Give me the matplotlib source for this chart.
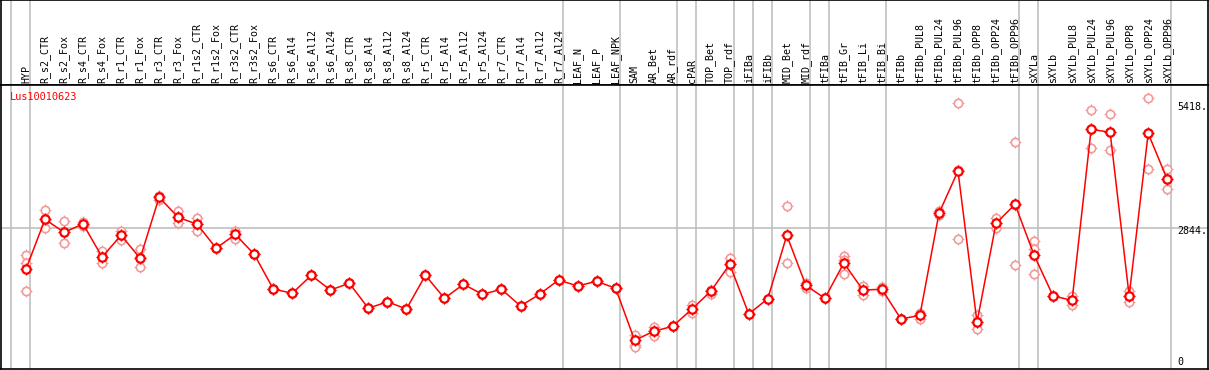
import matplotlib

matplotlib.use('Agg')
import numpy as np
import matplotlib.pyplot as plt

matplotlib.rcParams.update({'font.family': 'DejaVu Sans Mono', 'font.size': 7.2})

gene = 'Lus10010623'

samples = ['HYP',
           'R_s2_CTR', 'R_s2_Fox', 'R_s4_CTR', 'R_s4_Fox', 'R_r1_CTR', 'R_r1_Fox',
           'R_r3_CTR', 'R_r3_Fox', 'R_r1s2_CTR', 'R_r1s2_Fox', 'R_r3s2_CTR', 'R_r3s2_Fox',
           'R_s6_CTR', 'R_s6_Al4', 'R_s6_Al12', 'R_s6_Al24',
           'R_s8_CTR', 'R_s8_Al4', 'R_s8_Al12', 'R_s8_Al24',
           'R_r5_CTR', 'R_r5_Al4', 'R_r5_Al12', 'R_r5_Al24',
           'R_r7_CTR', 'R_r7_Al4', 'R_r7_Al12', 'R_r7_Al24',
           'LEAF_N', 'LEAF_P', 'LEAF_NPK',
           'SAM', 'AR_Bet', 'AR_rdf',
           'cPAR',
           'TOP_Bet', 'TOP_rdf',
           'iFIBa',
           'iFIBb',
           'MID_Bet', 'MID_rdf',
           'tFIBa',
           'tFIB_Gr', 'tFIB_Li', 'tFIB_Bi',
           'tFIBb', 'tFIBb_PUL8', 'tFIBb_PUL24', 'tFIBb_PUL96',
           'tFIBb_OPP8', 'tFIBb_OPP24', 'tFIBb_OPP96',
           'sXYLa',
           'sXYLb', 'sXYLb_PUL8', 'sXYLb_PUL24', 'sXYLb_PUL96',
           'sXYLb_OPP8', 'sXYLb_OPP24', 'sXYLb_OPP96']

# first sample of each group (group separators)
group_starts = ['HYP', 'R_s2_CTR', 'LEAF_N', 'SAM', 'cPAR', 'TOP_Bet', 'iFIBa', 'iFIBb',
                'MID_Bet', 'tFIBa', 'tFIB_Gr', 'tFIBb', 'sXYLa', 'sXYLb']

mean = [2017, 3019, 2757, 2925, 2259, 2697, 2233, 3463, 3060, 2919, 2435, 2717, 2313,
        1614, 1527, 1890, 1593, 1729, 1224, 1357, 1210,
        1890, 1426, 1708, 1507, 1608, 1271, 1507, 1795,
        1674, 1769, 1628,
        579, 760, 861, 1204, 1567, 2112, 1109, 1418, 2697, 1688,
        1426, 2138, 1593, 1608,
        1009, 1083, 3140, 3994, 942, 2939, 3322,
        2299, 1472, 1386, 4835, 4774, 1472, 4754, 3826]

rep1 = [2299, 3201, 2979, 2925, 2380, 2783, 2414, 3409, 3187, 3040, 2435, 2783, 2313,
        1614, 1527, 1890, 1593, 1729, 1224, 1357, 1210,
        1890, 1426, 1708, 1507, 1608, 1271, 1507, 1795,
        1674, 1769, 1628,
        686, 853, 861, 1285, 1593, 2239, 1109, 1418, 3282, 1741,
        1426, 2279, 1680, 1660,
        1009, 1130, 3193, 5359, 1083, 3052, 4573,
        2576, 1472, 1472, 5218, 5137, 1579, 5459, 4028]

rep2 = [2138, 2850, 2547, 2965, 2132, 2602, 2051, 3489, 2951, 2790, 2435, 2622, 2313,
        1614, 1527, 1890, 1593, 1729, 1224, 1357, 1210,
        1890, 1426, 1708, 1507, 1608, 1271, 1507, 1795,
        1674, 1769, 1628,
        484, 672, 861, 1123, 1513, 1963, 1109, 1418, 2132, 1628,
        1426, 1910, 1499, 1567,
        1009, 1015, 3100, 2616, 801, 2838, 2092,
        1916, 1472, 1297, 4452, 4411, 1357, 4028, 3625]

rep3 = [1567, 3019, 2757, 2884, 2259, 2697, 2233, 3489, 3060, 2919, 2435, 2717, 2313,
        1614, 1527, 1890, 1593, 1729, 1224, 1357, 1210,
        1890, 1426, 1708, 1507, 1608, 1271, 1507, 1795,
        1674, 1769, 1628,
        450, 760, 861, 1204, 1567, 2112, 1109, 1418, 2697, 1694,
        1426, 2199, 1593, 1608,
        1009, 1083, 3140, 4006, 942, 2939, 3308,
        2414, 1472, 1386, 4835, 4774, 1472, 4754, 3826]

ytick_vals = [0, 2844, 5418]
ytick_labels = ['0', '2844.', '5418.']

RED = '#ff0000'
PINK = '#f09a9a'
GRID = '#c0c0c0'

W, H = 1209, 370
fig = plt.figure(figsize=(W / 100, H / 100), dpi=100)
x = np.arange(len(samples))
step = 19.02
x0 = 26.0
xmin = (1 - x0) / step
xmax = (1208 - x0) / step

# header with sample names
hdr = fig.add_axes([1 / W, 285 / H, 1207 / W, 85 / H])
ax = fig.add_axes([1 / W, 1 / H, 1207 / W, 284 / H])

for a in (hdr, ax):
    a.set_xlim(xmin, xmax)
    a.set_xticks([])
    a.set_yticks([])
    for s in a.spines.values():
        s.set_color('black')
        s.set_linewidth(1.2)
    for g in group_starts:
        a.axvline(samples.index(g) - 15 / step, color=GRID, lw=1.2, zorder=0)
    a.axvline(len(samples) - 15 / step, color=GRID, lw=1.2, zorder=0)

hdr.set_ylim(0, 85)
for i, name in enumerate(samples):
    hdr.text(i, 2, name, rotation=90, ha='center', va='bottom', color='black')

ymax = 284 * 2844 / 141
ax.set_ylim(0, ymax)
ax.axhline(2844, color=GRID, lw=1.2, zorder=0)

for r in (rep1, rep2, rep3):
    ax.plot(x, r, linestyle='none', marker='+', ms=8.5, mew=0.8, color=PINK, zorder=2)
    ax.plot(x, r, linestyle='none', marker='o', ms=6, mew=1.2, mfc='white', mec=PINK, zorder=2)

ax.plot(x, mean, color=RED, lw=1.1, zorder=3)
ax.plot(x, mean, linestyle='none', marker='+', ms=8.5, mew=0.9, color=RED, zorder=4)
ax.plot(x, mean, linestyle='none', marker='o', ms=6, mew=1.6, mfc='white', mec=RED, zorder=4)

ax.text(xmin + 9 / step, ymax - 12 * 2844 / 141, gene, color=RED, ha='left', va='center', fontsize=7.4)

# value labels in the right margin
offs = {0: 7, 2844: -3, 5418: -7}
for v, lab in zip(ytick_vals, ytick_labels):
    ax.text(xmin + 1176 / step, v + offs[v] * 2844 / 141, lab, ha='left', va='center', fontsize=7.2, color='black')

fig.savefig('out.png', dpi=100)
